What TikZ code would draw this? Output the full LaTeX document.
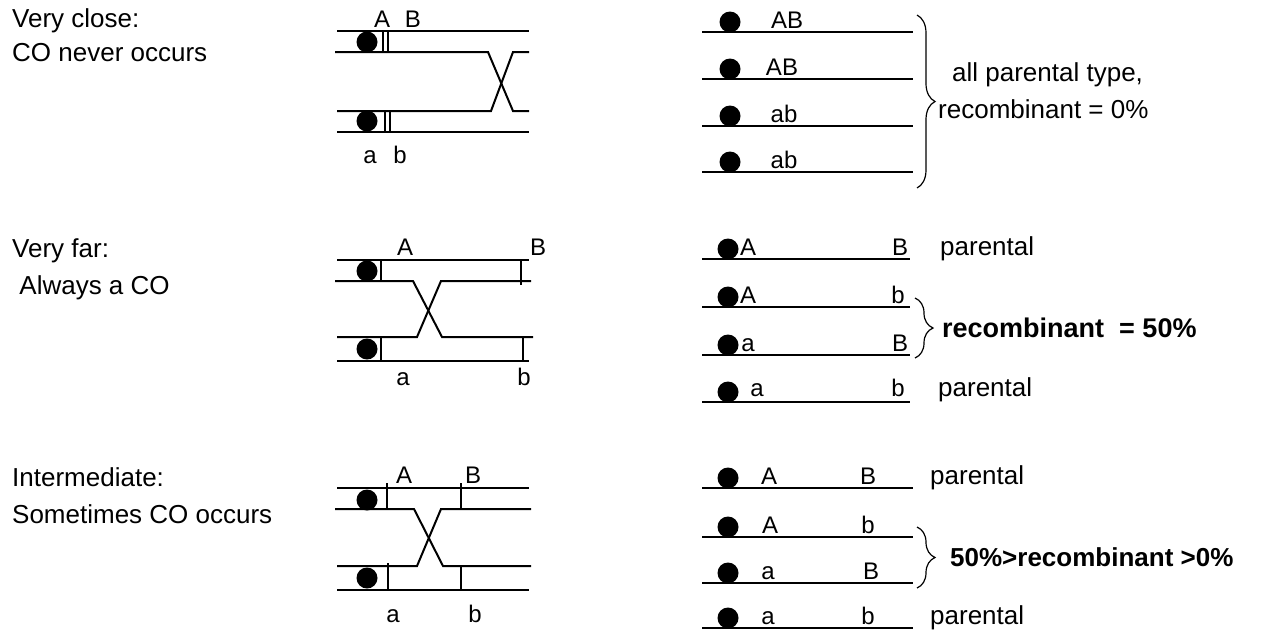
\documentclass[tikz,border=0pt]{standalone}
\usepackage{fontspec}
\setmainfont{Liberation Sans}
\usetikzlibrary{decorations.pathreplacing}

\begin{document}
\begin{tikzpicture}[x=1pt, y=-1pt,
    % Styles
    chrom/.style={line width=2pt},
    locus/.style={line width=1.5pt},
    cent/.style={fill=black},
    lbl/.style={font=\fontsize{24}{28}\selectfont, anchor=base, inner sep=0pt},
    txt/.style={font=\fontsize{26}{30}\selectfont, anchor=base west, inner sep=0pt},
    res/.style={font=\fontsize{26}{30}\selectfont\bfseries, anchor=west, inner sep=0pt},
    brc/.style={decorate, decoration={brace, amplitude=#1}, line width=1.2pt},
  ]
  \useasboundingbox (0,0) rectangle (1267,630);

  % ---------- Very close ----------
  \node[txt] (closeA) at (12,27) {Very close:};
  \node[txt] (closeB) at (12,61) {CO never occurs};

  % homologues, crossover far from the loci
  \draw[chrom] (337,31) -- (529,31);
  \draw[chrom] (335,52) -- (488,52) -- (513,111) -- (529,111);
  \draw[chrom] (337,111) -- (491,111) -- (513,52) -- (529,52);
  \draw[chrom] (337,132) -- (529,132);
  \fill[cent] (367,42) circle (10.5pt);
  \fill[cent] (367,121) circle (10.5pt);
  \draw[locus] (383,31) -- (383,52) (388,31) -- (388,52);
  \draw[locus] (385,111) -- (385,132) (390,111) -- (390,132);
  \node[lbl] (cA) at (382,27) {A};
  \node[lbl] (cB) at (413,27) {B};
  \node[lbl] (ca) at (370,163) {a};
  \node[lbl] (cb) at (400,163) {b};

  % gametes
  \draw[chrom] (702,32) -- (913,32);
  \draw[chrom] (702,79) -- (913,79);
  \draw[chrom] (702,126) -- (913,126);
  \draw[chrom] (702,172) -- (913,172);
  \fill[cent] (730,22) circle (10.5pt);
  \fill[cent] (730,69) circle (10.5pt);
  \fill[cent] (730,116) circle (10.5pt);
  \fill[cent] (730,162) circle (10.5pt);
  \node[lbl] (cg1) at (787,28) {AB};
  \node[lbl] (cg2) at (782,75) {AB};
  \node[lbl] (cg3) at (784,122) {ab};
  \node[lbl] (cg4) at (784,168) {ab};
  \draw[brc=18pt] (917,15) -- (917,188);
  \node[txt] (allpar) at (952,81) {all parental type,};
  \node[txt] (rec0) at (938,118) {recombinant = 0\%};

  % ---------- Very far ----------
  \node[txt] (farA) at (12,257) {Very far:};
  \node[txt] (farB) at (12,294) {\ Always a CO};

  \draw[chrom] (337,260) -- (529,260);
  \draw[chrom] (335,281) -- (413,281) -- (442,337) -- (533,337);
  \draw[chrom] (337,337) -- (417,337) -- (441,281) -- (531,281);
  \draw[chrom] (337,361) -- (529,361);
  \fill[cent] (367,271) circle (10.5pt);
  \fill[cent] (367,349) circle (10.5pt);
  \draw[locus] (381,260) -- (381,281) (521,260) -- (521,285);
  \draw[locus] (381,337) -- (381,361) (523,337) -- (523,361);
  \node[lbl] (fA) at (405,255) {A};
  \node[lbl] (fB) at (538,255) {B};
  \node[lbl] (fa) at (403,385) {a};
  \node[lbl] (fb) at (524,385) {b};

  \draw[chrom] (702,259) -- (910,259);
  \draw[chrom] (702,307) -- (910,307);
  \draw[chrom] (702,355) -- (910,355);
  \draw[chrom] (702,402) -- (910,402);
  \fill[cent] (728,249) circle (10.5pt);
  \fill[cent] (728,297) circle (10.5pt);
  \fill[cent] (728,345) circle (10.5pt);
  \fill[cent] (728,392) circle (10.5pt);
  \node[lbl] (fg1A) at (748,255) {A};
  \node[lbl] (fg1B) at (900,255) {B};
  \node[lbl] (fg2A) at (748,303) {A};
  \node[lbl] (fg2b) at (898,303) {b};
  \node[lbl] (fg3a) at (748,351) {a};
  \node[lbl] (fg3B) at (900,351) {B};
  \node[lbl] (fg4a) at (757,396) {a};
  \node[lbl] (fg4b) at (898,396) {b};
  \node[txt] (fpar1) at (940,255) {parental};
  \node[txt] (fpar2) at (938,396) {parental};
  \draw[brc=18pt] (915,298) -- (915,358);
  \node[res, font=\fontsize{27}{31}\selectfont\bfseries] (rec50) at (942,328) {recombinant\ \ = 50\%};

  % ---------- Intermediate ----------
  \node[txt] (midA) at (12,486) {Intermediate:};
  \node[txt] (midB) at (12,523) {Sometimes CO occurs};

  \draw[chrom] (337,488) -- (529,488);
  \draw[chrom] (335,509) -- (414,509) -- (443,566) -- (531,566);
  \draw[chrom] (337,566) -- (417,566) -- (441,509) -- (531,509);
  \draw[chrom] (337,590) -- (529,590);
  \fill[cent] (367,500) circle (10.5pt);
  \fill[cent] (367,578) circle (10.5pt);
  \draw[locus] (387,483) -- (387,509) (461,483) -- (461,509);
  \draw[locus] (388,563) -- (388,590) (461,566) -- (461,590);
  \node[lbl] (mA) at (404,483) {A};
  \node[lbl] (mB) at (473,483) {B};
  \node[lbl] (ma) at (393,622) {a};
  \node[lbl] (mb) at (475,622) {b};

  \draw[chrom] (702,488) -- (913,488);
  \draw[chrom] (702,537) -- (913,537);
  \draw[chrom] (702,583) -- (913,583);
  \draw[chrom] (702,628) -- (913,628);
  \fill[cent] (728,478) circle (10.5pt);
  \fill[cent] (728,527) circle (10.5pt);
  \fill[cent] (728,573) circle (10.5pt);
  \fill[cent] (728,618) circle (10.5pt);
  \node[lbl] (mg1A) at (769,484) {A};
  \node[lbl] (mg1B) at (868,484) {B};
  \node[lbl] (mg2A) at (770,533) {A};
  \node[lbl] (mg2b) at (868,533) {b};
  \node[lbl] (mg3a) at (768,579) {a};
  \node[lbl] (mg3B) at (871,579) {B};
  \node[lbl] (mg4a) at (768,624) {a};
  \node[lbl] (mg4b) at (868,624) {b};
  \node[txt] (mpar1) at (930,484) {parental};
  \node[txt] (mpar2) at (930,624) {parental};
  \draw[brc=18pt] (917,527) -- (917,588);
  \node[res] (recmid) at (950,557) {50\%>recombinant >0\%};

\end{tikzpicture}
\end{document}
